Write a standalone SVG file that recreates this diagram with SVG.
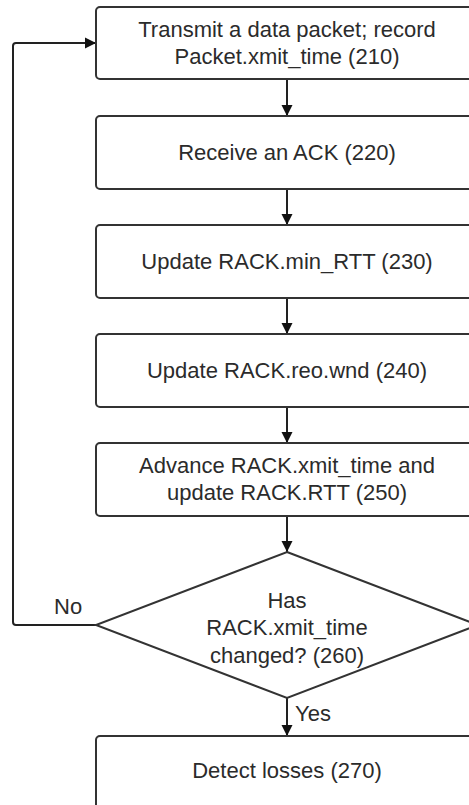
<svg xmlns="http://www.w3.org/2000/svg" width="469" height="805" viewBox="0 0 469 805">
<style>
.box{fill:#fff;stroke:#333;stroke-width:2}
.t{font-family:"Liberation Sans",Arial,sans-serif;font-size:22px;fill:#2b2b2b;text-anchor:middle}
.l{font-family:"Liberation Sans",Arial,sans-serif;font-size:22px;fill:#2b2b2b}
.c{fill:none;stroke:#222;stroke-width:2}
</style>
<defs>
<marker id="ah" markerWidth="12" markerHeight="12" refX="11" refY="6" orient="auto" markerUnits="userSpaceOnUse">
<path d="M0,0.5 L11,6 L0,11.5 Z" fill="#111"/>
</marker>
</defs>
<rect width="469" height="805" fill="#fff"/>
<g id="connectors">
<line class="c" x1="287" y1="79" x2="287" y2="116" marker-end="url(#ah)"/>
<line class="c" x1="287" y1="189" x2="287" y2="225" marker-end="url(#ah)"/>
<line class="c" x1="287" y1="298" x2="287" y2="334" marker-end="url(#ah)"/>
<line class="c" x1="287" y1="407" x2="287" y2="443" marker-end="url(#ah)"/>
<line class="c" x1="287" y1="516" x2="287" y2="552" marker-end="url(#ah)"/>
<line class="c" x1="287" y1="698" x2="287" y2="736" marker-end="url(#ah)"/>
<path class="c" d="M96,625 H16 Q13,625 13,622 V46 Q13,43 16,43 H96" marker-end="url(#ah)"/>
<text class="l" x="54" y="614">No</text>
<text class="l" x="295" y="721">Yes</text>
</g>
<g id="n210">
<rect class="box" x="96" y="7" width="382" height="72" rx="4"/>
<text class="t" x="287" y="37">Transmit a data packet; record</text>
<text class="t" x="287" y="64">Packet.xmit_time (210)</text>
</g>
<g id="n220">
<rect class="box" x="96" y="116" width="382" height="73" rx="4"/>
<text class="t" x="287" y="160">Receive an ACK (220)</text>
</g>
<g id="n230">
<rect class="box" x="96" y="225" width="382" height="73" rx="4"/>
<text class="t" x="287" y="269">Update RACK.min_RTT (230)</text>
</g>
<g id="n240">
<rect class="box" x="96" y="334" width="382" height="73" rx="4"/>
<text class="t" x="287" y="378">Update RACK.reo.wnd (240)</text>
</g>
<g id="n250">
<rect class="box" x="96" y="443" width="382" height="73" rx="4"/>
<text class="t" x="287" y="473">Advance RACK.xmit_time and</text>
<text class="t" x="287" y="500">update RACK.RTT (250)</text>
</g>
<g id="n260">
<polygon class="box" points="287,552 478,625 287,698 96,625"/>
<text class="t" x="287" y="608">Has</text>
<text class="t" x="287" y="635">RACK.xmit_time</text>
<text class="t" x="287" y="663">changed? (260)</text>
</g>
<g id="n270">
<rect class="box" x="96" y="736" width="382" height="90" rx="4"/>
<text class="t" x="287" y="778">Detect losses (270)</text>
</g>
</svg>
